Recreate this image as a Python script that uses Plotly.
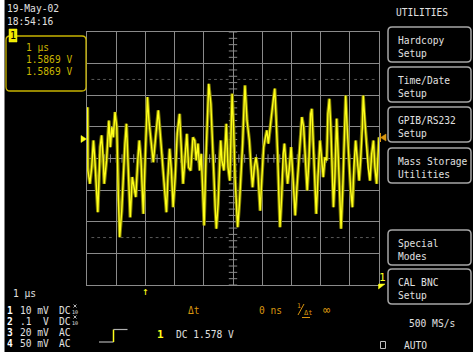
import numpy as np
import plotly.graph_objects as go

# ---------------- data (read from the screen) ----------------
# time in microseconds (trigger at 0, 1 us/div), amplitude in mV relative to screen centre (100 mV/div)
time_us = [-1.98, -1.97, -1.90, -1.84, -1.78, -1.73, -1.63, -1.55, -1.50, -1.44, -1.41, -1.33, -1.25, -1.20,
           -1.15, -1.10, -1.04, -0.98, -0.93, -0.88, -0.81, -0.76, -0.70, -0.65, -0.59, -0.52, -0.45, -0.38,
           -0.33, -0.26, -0.21, -0.15, -0.07, -0.01, 0.07, 0.12, 0.22, 0.27, 0.35, 0.42, 0.44, 0.49, 0.57,
           0.64, 0.72, 0.77, 0.83, 0.89, 0.95, 1.02, 1.09, 1.17, 1.23, 1.29, 1.35, 1.42, 1.48, 1.55, 1.63,
           1.69, 1.74, 1.80, 1.86, 1.91, 1.97, 2.01, 2.07, 2.12, 2.17, 2.24, 2.28, 2.35, 2.39, 2.43, 2.49,
           2.54, 2.58, 2.62, 2.69, 2.77, 2.83, 2.89, 2.94, 2.97, 3.02, 3.07, 3.14, 3.16, 3.22, 3.27, 3.33,
           3.39, 3.41, 3.48, 3.56, 3.62, 3.67, 3.73, 3.79, 3.85, 3.90, 3.93, 3.99, 4.05, 4.11, 4.16, 4.21,
           4.28, 4.34, 4.39, 4.43, 4.48, 4.53, 4.57, 4.61, 4.67, 4.72, 4.76, 4.82, 4.87, 4.93, 4.99, 5.04,
           5.10, 5.13, 5.19, 5.25, 5.30, 5.36, 5.42, 5.47, 5.51, 5.54, 5.60, 5.66, 5.70, 5.75, 5.81, 5.85,
           5.91, 5.98, 6.04, 6.09, 6.15, 6.21, 6.25, 6.30, 6.35, 6.40, 6.44, 6.49, 6.55, 6.61, 6.66, 6.70,
           6.76, 6.81, 6.86, 6.91, 6.97, 7.03, 7.09, 7.14, 7.20, 7.26, 7.32, 7.37, 7.43, 7.46, 7.51, 7.57,
           7.63, 7.69, 7.75, 7.81, 7.86, 7.92, 7.97, 8.00]
signal_mv = [162, -38, -80, -28, 57, -6, -170, 36, 73, -6, -80, -6, 120, 36,
             99, 67, 147, 99, -112, -249, -165, -59, 47, 110, -6, -186, -59, -91,
             -122, -6, 57, -6, -175, -6, 194, 120, 25, -12, 67, 131, 152, 99, -6,
             -91, -170, -59, 31, -38, -154, -59, 78, 141, 15, -80, -6, 78, -28, -38, 67,
             57, -6, 47, -38, 15, -112, -212, -6, 152, 236, 173, 67, -59, -154, -222, -143,
             -6, 57, -6, -38, 110, -28, -70, 99, 205, 99, -59, -186, -217, -143, -70, 47,
             194, 231, 120, 57, -28, -91, -28, 4, -38, -133, -165, -59, 36, 67, 89, 47,
             110, 141, 194, 221, 131, 15, -112, -217, -112, 15, 47, -28, -80, -28, 36, -38,
             -133, -180, -91, -6, 57, 131, 99, -6, -38, -101, -6, 141, 157, 47, -91, -175,
             -59, 57, -6, -59, 4, -6, 141, 189, 99, -28, -154, -59, 126, -6, -143, -222,
             -91, 99, 199, 99, -6, -101, -154, -28, 57, -6, -70, -6, 99, 199, 120, 47,
             -28, -70, 15, 57, -28, -80, 15, 67]

date_lines = ["19-May-02", "18:54:16"]
cursor_lines = ["1 \u03bcs", "1.5869 V", "1.5869 V"]
menu_title = "UTILITIES"
menu_buttons = [("Hardcopy", "Setup"), ("Time/Date", "Setup"), ("GPIB/RS232", "Setup"),
                ("Mass Storage", "Utilities"), ("Special", "Modes"), ("CAL BNC", "Setup")]
channel_ids = ["1", "2", "3", "4"]
channel_scales = ["10 mV", ".1  V", "20 mV", "50 mV"]
channel_coupling = ["DC", "DC", "AC", "AC"]
channel_probe = [True, True, False, False]
timebase = "1 \u03bcs"
trigger_text = "DC 1.578 V"
sample_rate = "500 MS/s"
trigger_mode = "AUTO"

# ---------------- geometry ----------------
W_FIG, H_FIG = 473, 352
L, T, PW, PH = 87, 32, 292, 253
R = W_FIG - L - PW
B = H_FIG - T - PH
X_RANGE = [-2, 8]
Y_RANGE = [-400, 400]

def px(x):
    return (x - L) / PW

def py(y):
    return (T + PH - y) / PH

FONT = "DejaVu Sans Mono"
GRID = "#8a8a8a"
WHITE = "#e0e0e0"
YEL = "#ffff1a"
OLIVE = "#c8b400"
ORANGE = "#d9960f"

fig = go.Figure()

# graticule ticks on centre lines
xt = np.round(np.arange(X_RANGE[0], X_RANGE[1] + 1e-9, 0.2), 3)
yt = np.arange(Y_RANGE[0], Y_RANGE[1] + 1e-9, 20)
fig.add_trace(go.Scatter(x=xt, y=np.zeros_like(xt), mode="markers",
                         marker=dict(symbol="line-ns", size=6, line=dict(color=GRID, width=1)),
                         hoverinfo="skip"))
fig.add_trace(go.Scatter(x=np.full_like(yt, 3.0, dtype=float), y=yt, mode="markers",
                         marker=dict(symbol="line-ew", size=6, line=dict(color=GRID, width=1)),
                         hoverinfo="skip"))
# dotted rows at +/-2.5 div
xd = np.array([v for v in xt if abs(v - round(v)) > 1e-6])
for lvl in (250, -250):
    fig.add_trace(go.Scatter(x=xd, y=np.full_like(xd, lvl), mode="markers",
                             marker=dict(symbol="line-ew", size=2, line=dict(color="#5a5a5a", width=1)),
                             hoverinfo="skip"))

# waveform
fig.add_trace(go.Scatter(x=time_us, y=signal_mv, mode="lines",
                         line=dict(color="#7f7c00", width=3.4), hoverinfo="skip"))
fig.add_trace(go.Scatter(x=time_us, y=signal_mv, mode="lines",
                         line=dict(color=YEL, width=1.4), hoverinfo="skip"))

shapes = []
annotations = []

def ann(text, x, y, color=WHITE, size=9.6, xanchor="left", yanchor="middle", **kw):
    annotations.append(dict(text=text, x=px(x), y=py(y), xref="paper", yref="paper",
                            xanchor=xanchor, yanchor=yanchor, showarrow=False,
                            font=dict(family=FONT, size=size, color=color), **kw))

def line(x0, y0, x1, y1, color, width=1):
    shapes.append(dict(type="line", xref="paper", yref="paper", x0=px(x0), y0=py(y0),
                       x1=px(x1), y1=py(y1), line=dict(color=color, width=width)))

def rrect(x0, y0, x1, y1, r, color, width=1.2, fill=None):
    pts = [
        f"M {px(x0 + r)},{py(y0)}", f"L {px(x1 - r)},{py(y0)}", f"Q {px(x1)},{py(y0)} {px(x1)},{py(y0 + r)}",
        f"L {px(x1)},{py(y1 - r)}", f"Q {px(x1)},{py(y1)} {px(x1 - r)},{py(y1)}",
        f"L {px(x0 + r)},{py(y1)}", f"Q {px(x0)},{py(y1)} {px(x0)},{py(y1 - r)}",
        f"L {px(x0)},{py(y0 + r)}", f"Q {px(x0)},{py(y0)} {px(x0 + r)},{py(y0)}", "Z"]
    shapes.append(dict(type="path", xref="paper", yref="paper", path=" ".join(pts),
                       line=dict(color=color, width=width), fillcolor=fill or "rgba(0,0,0,0)"))

def poly(points, color):
    path = "M " + " L ".join(f"{px(a)},{py(b)}" for a, b in points) + " Z"
    shapes.append(dict(type="path", xref="paper", yref="paper", path=path,
                       line=dict(color=color, width=0.5), fillcolor=color))

# white strip at far left
shapes.append(dict(type="rect", xref="paper", yref="paper", x0=px(0), x1=px(4.5), y0=py(H_FIG), y1=py(0),
                   line=dict(width=0), fillcolor="#ffffff"))

# date / time
ann(date_lines[0], 5, 8)
ann(date_lines[1], 5, 21)

# cursor readout box
rrect(6, 36, 86, 91, 4, OLIVE, 1.3)
shapes.append(dict(type="rect", xref="paper", yref="paper", x0=px(9), x1=px(17), y0=py(42), y1=py(29),
                   line=dict(color=YEL, width=0.5), fillcolor="#f0ea00"))
ann("1", 13, 35.5, color="#000000", size=10, xanchor="center")
for i, t in enumerate(cursor_lines):
    ann(t, 24, 47 + 12 * i, color=OLIVE)

# right menu
ann(menu_title, 422, 12, xanchor="center")
btn_tops = [27, 67, 107, 148, 230, 269]
for top, (l1, l2) in zip(btn_tops, menu_buttons):
    rrect(388, top, 471, top + 35, 4, "#a6a6a6", 1.5, fill="#000000")
    ann(l1, 396, top + 13.5)
    ann(l2, 396, top + 26.5)

# markers around grid
poly([(81, 135.5), (81, 142.5), (86.5, 139)], YEL)           # channel ground marker
poly([(386, 134), (386, 141), (380.5, 137.5)], ORANGE)         # trigger level marker
line(380.5, 133, 380.5, 142, ORANGE, 1)
ann("1", 382, 277, color=YEL, size=11, xanchor="center")
poly([(378.5, 284), (385, 284), (378.5, 289)], YEL)
ann("\u2191", 145.5, 291, color=YEL, size=11, xanchor="center")

# bottom left readouts
ann(timebase, 11, 293)
rows_y = [310, 321, 332, 343]
for cid, sc, cp, pr, yy in zip(channel_ids, channel_scales, channel_coupling, channel_probe, rows_y):
    ann(f"<b>{cid}</b>", 4.5, yy, color="#ffffff", size=9.6)
    ann(sc, 17.5, yy)
    ann(cp, 56.5, yy)
    if pr:
        # stacked "x / 10" probe marker: tiny cross drawn as lines, "10" as text
        line(73.5, yy - 5.5, 76.5, yy - 2.5, WHITE, 0.8)
        line(73.5, yy - 2.5, 76.5, yy - 5.5, WHITE, 0.8)
        ann("10", 75, yy + 1.8, size=5, xanchor="center", borderpad=0)

# trigger symbol
line(99, 342, 113.5, 342, "#b0b0b0", 1.2)
line(113.5, 342, 113.5, 329.5, YEL, 1.5)
line(113.5, 329.5, 127.5, 329.5, "#b0b0b0", 1.2)
ann("<b>1</b>", 160, 334, color=YEL, size=11, xanchor="center")
ann(trigger_text, 174, 334)

# cursor measurement line
ann("\u0394t", 185.5, 310, color=ORANGE)
ann("0 ns", 256.5, 310, color=ORANGE)
ann("1", 298.5, 305.5, color=ORANGE, size=6.5, xanchor="center", borderpad=0)
line(298, 315, 304, 304, ORANGE, 1)
ann("\u0394t", 302.5, 313, color=ORANGE, size=7, borderpad=0)
line(302, 317.5, 310, 317.5, ORANGE, 1)
ann("\u221e", 321, 310, color=ORANGE, size=12)

# bottom right
ann(sample_rate, 407, 323)
shapes.append(dict(type="rect", xref="paper", yref="paper", x0=px(380.5), x1=px(385.5), y0=py(348.5),
                   y1=py(341.5), line=dict(color="#c0c0c0", width=1), fillcolor="rgba(0,0,0,0)"))
ann(trigger_mode, 402, 345)

axis_common = dict(showgrid=True, gridcolor=GRID, gridwidth=1, zeroline=False, showticklabels=False,
                   ticks="", showline=True, mirror=True, linecolor=GRID, linewidth=1, fixedrange=True)
fig.update_layout(
    width=W_FIG, height=H_FIG, margin=dict(l=L, r=R, t=T, b=B, pad=0),
    paper_bgcolor="#000000", plot_bgcolor="#000000", showlegend=False,
    xaxis=dict(range=X_RANGE, dtick=1, tick0=0, **axis_common),
    yaxis=dict(range=Y_RANGE, dtick=100, tick0=0, **axis_common),
    shapes=shapes, annotations=annotations, hovermode=False,
)

fig.write_html("out.html", config={"displayModeBar": False, "staticPlot": True},
               post_script="document.body.style.margin='0';document.body.style.background='#000';")
